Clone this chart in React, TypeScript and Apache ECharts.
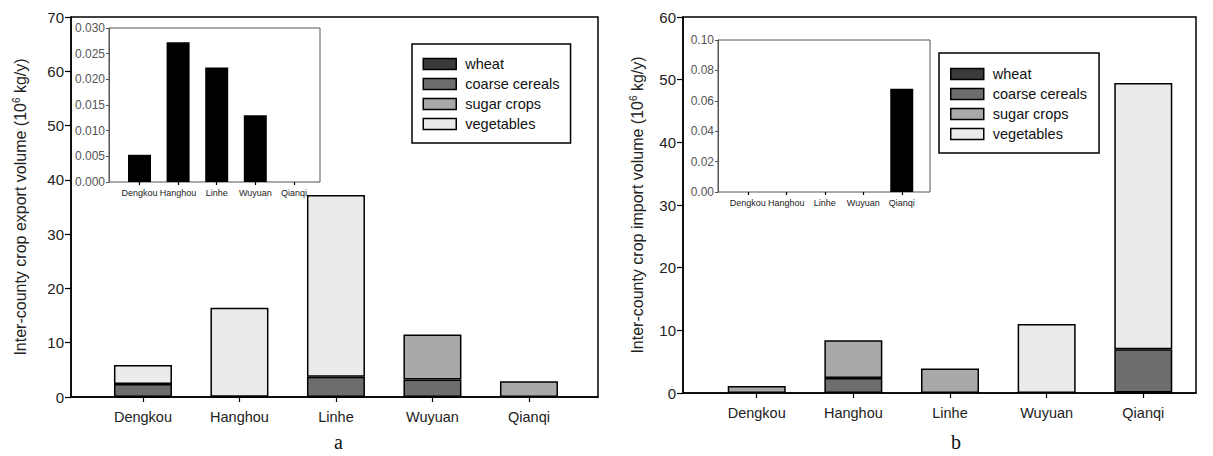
import React, { useEffect, useRef } from 'react';
import * as echarts from 'echarts';

const counties = ['Dengkou', 'Hanghou', 'Linhe', 'Wuyuan', 'Qianqi'];
const cropNames = ['wheat', 'coarse cereals', 'sugar crops', 'vegetables'];
const cropColors = ['#3a3a3a', '#6d6d6d', '#a9a9a9', '#ebebeb'];

// (a) inter-county export volume, 10^6 kg/y
const exportWheat = [0.0053, 0.0272, 0.0223, 0.013, 0];
const exportCoarse = [2.4, 0, 3.7, 3.2, 0];
const exportSugar = [0, 0, 0, 8.3, 2.9];
const exportVeg = [3.5, 16.4, 33.5, 0, 0];

// (b) inter-county import volume, 10^6 kg/y
const importWheat = [0, 0, 0, 0, 0.068];
const importCoarse = [0, 2.4, 0, 0, 6.9];
const importSugar = [1.1, 6.0, 3.9, 0, 0];
const importVeg = [0, 0, 0, 11.0, 42.5];

// axis ranges
const exportAxis = { max: 70, step: 10 };
const importAxis = { max: 60, step: 10 };
const exportInsetAxis = { max: 0.03, step: 0.005, digits: 3 };
const importInsetAxis = { max: 0.1, step: 0.02, digits: 2 };

const FONT = 'Liberation Sans, Arial, Helvetica, sans-serif';

function App() {
  const ref = useRef<HTMLDivElement>(null);

  useEffect(() => {
    document.body.style.margin = '0';
    const chart = echarts.init(ref.current!, undefined, { renderer: 'svg' });

    const stacked = (vals: number[][], idx: number, stack: string) =>
      cropNames.map((n, i) => ({
        name: n,
        type: 'bar',
        stack,
        xAxisIndex: idx,
        yAxisIndex: idx,
        barWidth: 58,
        itemStyle: { color: cropColors[i], borderColor: '#000', borderWidth: 1.5 },
        data: vals[i].map((v) => (v === 0 ? '-' : v)),
      }));

    const frameX = (gi: number) => ({
      gridIndex: gi,
      type: 'value',
      min: 0,
      max: 1,
      axisLine: { show: true, onZero: false, lineStyle: { color: '#000', width: 1.5 } },
      axisTick: { show: false },
      axisLabel: { show: false },
      splitLine: { show: false },
    });
    const frameInsetX = (gi: number) => ({
      gridIndex: gi,
      type: 'value',
      min: 0,
      max: 1,
      show: false,
    });
    const catX = (gi: number, fs: number, margin: number, tick: number) => ({
      gridIndex: gi,
      type: 'category',
      data: counties,
      axisLine: { show: false },
      axisTick: { show: true, alignWithLabel: true, length: tick, lineStyle: { color: '#000', width: 1.2 } },
      axisLabel: { fontSize: fs, color: '#222', margin, fontFamily: FONT, interval: 0 },
      splitLine: { show: false },
    });
    const hiddenY = (gi: number, max: number) => ({
      gridIndex: gi,
      type: 'value',
      min: 0,
      max,
      show: false,
    });
    const mainY = (gi: number, ax: { max: number; step: number }, name: string, gap: number) => ({
      gridIndex: gi,
      type: 'value',
      min: 0,
      max: ax.max,
      interval: ax.step,
      axisLine: { show: true, lineStyle: { color: '#000', width: 1.5 } },
      axisTick: { show: true, length: 6, lineStyle: { color: '#000', width: 1.2 } },
      axisLabel: { fontSize: 15, color: '#222', margin: 7, fontFamily: FONT },
      splitLine: { show: false },
      name,
      nameLocation: 'middle',
      nameGap: gap,
      nameTextStyle: {
        fontSize: 16,
        color: '#222',
        fontFamily: FONT,
        rich: { sup: { fontSize: 10, fontFamily: FONT, color: '#222', padding: [0, 0, 8, 0] } },
      },
    });
    const insetY = (gi: number, ax: { max: number; step: number; digits: number }) => ({
      gridIndex: gi,
      type: 'value',
      min: 0,
      max: ax.max,
      interval: ax.step,
      axisLine: { show: true, lineStyle: { color: '#555', width: 1 } },
      axisTick: { show: true, length: 3, lineStyle: { color: '#555' } },
      axisLabel: {
        fontSize: 12,
        color: '#555',
        margin: 4,
        fontFamily: FONT,
        formatter: (v: number) => v.toFixed(ax.digits),
      },
      splitLine: { show: false },
    });

    const legendBase = {
      orient: 'vertical',
      data: cropNames,
      itemWidth: 33,
      itemHeight: 11,
      itemGap: 0,
      icon: 'rect',
      borderColor: '#000',
      borderWidth: 1.5,
      backgroundColor: '#fff',
      itemStyle: { borderColor: '#000', borderWidth: 1.5 },
      textStyle: { fontSize: 14.5, color: '#111', lineHeight: 20, fontFamily: FONT, padding: [0, 0, 0, 4] },
      selectedMode: false,
    };

    chart.setOption({
      animation: false,
      backgroundColor: '#fff',
      grid: [
        { left: 71, top: 17, width: 527, height: 380, show: true, borderColor: '#000', borderWidth: 1.5 },
        { left: 94.7, top: 17, width: 482.5, height: 380 },
        { left: 109, top: 28, width: 211, height: 154, show: true, borderColor: '#555', borderWidth: 1 },
        { left: 120.2, top: 28, width: 193, height: 154 },
        { left: 683, top: 17, width: 513, height: 376, show: true, borderColor: '#000', borderWidth: 1.5 },
        { left: 708.4, top: 17, width: 483.2, height: 376 },
        { left: 718, top: 40, width: 212, height: 152, show: true, borderColor: '#555', borderWidth: 1 },
        { left: 728.5, top: 40, width: 192.5, height: 152 },
      ],
      xAxis: [
        frameX(0),
        catX(1, 14.5, 12, 5),
        frameInsetX(2),
        catX(3, 9, 6, 3),
        frameX(4),
        catX(5, 14.5, 12, 5),
        frameInsetX(6),
        catX(7, 9, 6, 3),
      ],
      yAxis: [
        mainY(0, exportAxis, 'Inter-county crop export volume (10{sup|6} kg/y)', 42),
        hiddenY(1, exportAxis.max),
        insetY(2, exportInsetAxis),
        hiddenY(3, exportInsetAxis.max),
        mainY(4, importAxis, 'Inter-county crop import volume (10{sup|6} kg/y)', 37),
        hiddenY(5, importAxis.max),
        insetY(6, importInsetAxis),
        hiddenY(7, importInsetAxis.max),
      ],
      legend: [
        { ...legendBase, left: 412, top: 44, padding: [10, 11, 9, 10.5] },
        { ...legendBase, left: 939, top: 53, padding: [11, 12, 9, 11] },
      ],
      series: [
        ...stacked([exportWheat, exportCoarse, exportSugar, exportVeg], 1, 'exp'),
        {
          name: 'wheat inset a',
          type: 'bar',
          xAxisIndex: 3,
          yAxisIndex: 3,
          barWidth: 23,
          itemStyle: { color: '#000' },
          data: exportWheat.map((v) => (v === 0 ? '-' : v)),
        },
        ...stacked([importWheat, importCoarse, importSugar, importVeg], 5, 'imp'),
        {
          name: 'wheat inset b',
          type: 'bar',
          xAxisIndex: 7,
          yAxisIndex: 7,
          barWidth: 23,
          itemStyle: { color: '#000' },
          data: importWheat.map((v) => (v === 0 ? '-' : v)),
        },
      ],
      graphic: [
        {
          type: 'text',
          left: 334,
          top: 432,
          style: { text: 'a', fontSize: 20, fontFamily: 'Liberation Serif, Times New Roman, serif', fill: '#111' },
        },
        {
          type: 'text',
          left: 951,
          top: 432,
          style: { text: 'b', fontSize: 20, fontFamily: 'Liberation Serif, Times New Roman, serif', fill: '#111' },
        },
      ],
    });

    return () => chart.dispose();
  }, []);

  return <div ref={ref} style={{ width: 1213, height: 456 }} />;
}

export default App;
